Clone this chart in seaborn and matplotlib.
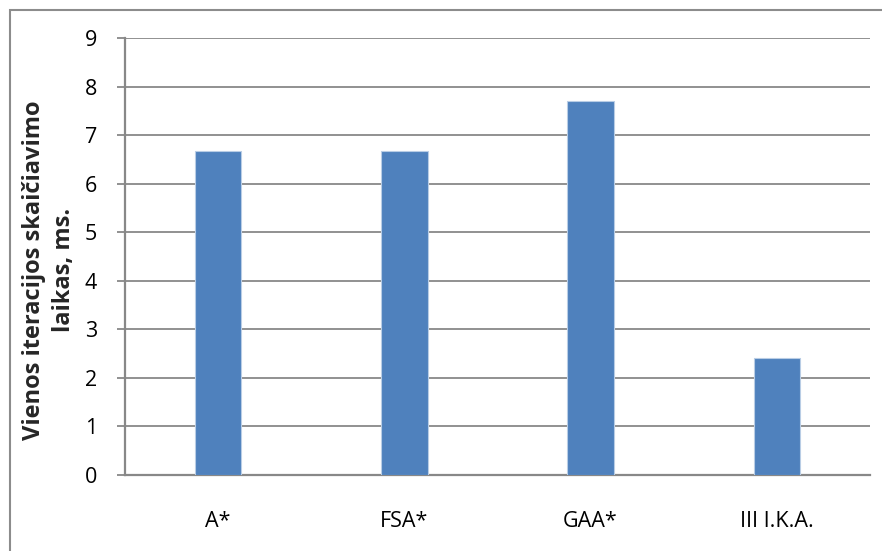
import matplotlib
matplotlib.use("Agg")
import matplotlib.pyplot as plt
import seaborn as sns
import pandas as pd
from matplotlib.patches import Rectangle

categories = ["A*", "FSA*", "GAA*", "III I.K.A."]
times_ms = [6.67, 6.67, 7.7, 2.4]
y_ticks = [0, 1, 2, 3, 4, 5, 6, 7, 8, 9]

df = pd.DataFrame({"algoritmas": categories, "laikas": times_ms})

sns.set_theme(style="white")
plt.rcParams["font.family"] = ["Open Sans", "DejaVu Sans"]

grid_gray = "#888888"
fig = plt.figure(figsize=(8.82, 5.51), dpi=100)
ax = fig.add_axes([125 / 882, 1 - 475 / 551, (870 - 125) / 882, (475 - 38) / 551])

sns.barplot(data=df, x="algoritmas", y="laikas", color="#4F81BD", width=0.25,
            saturation=1, edgecolor="#B9CDE5", linewidth=0.8, ax=ax, zorder=3)

ax.set_ylim(0, 9)
ax.set_yticks(y_ticks)
ax.set_xlim(-0.5, len(categories) - 0.5)
ax.yaxis.grid(True, color=grid_gray, linewidth=1.3, zorder=0)
ax.set_axisbelow(True)
ax.set_xlabel("")
ax.set_ylabel("")

for side in ["top", "right"]:
    ax.spines[side].set_visible(False)
for side in ["left", "bottom"]:
    ax.spines[side].set_visible(True)
    ax.spines[side].set_color(grid_gray)
    ax.spines[side].set_linewidth(1.6)

ax.tick_params(axis="y", length=6, width=1.3, color=grid_gray, pad=14,
               labelsize=15.5, labelcolor="black", left=True)
ax.tick_params(axis="x", length=0, pad=26, labelsize=15.5, labelcolor="black")

fig.text(49 / 882, 1 - 270 / 551, "Vienos iteracijos skaičiavimo\nlaikas, ms.",
         rotation=90, ha="center", va="center", multialignment="center",
         fontsize=17, fontweight="bold", linespacing=1.3)

# chart area frame
fig.patches.append(Rectangle((10 / 882, -0.2), 2.0, 1.2 - 10 / 551,
                             transform=fig.transFigure, fill=False,
                             edgecolor="#8c8c8c", linewidth=1.5))

fig.savefig("out.png", dpi=100)
